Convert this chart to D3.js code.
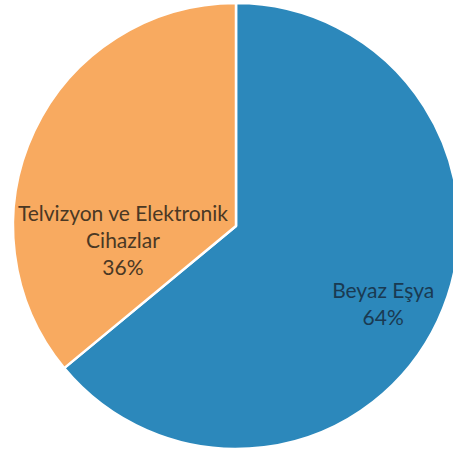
<!DOCTYPE html>
<html><head><meta charset="utf-8">
<script src="https://cdn.jsdelivr.net/npm/d3@7"></script>
<style>body{margin:0;background:#fff}svg{display:block}</style>
</head><body>
<svg id="c" width="453" height="457"></svg>
<script>
const categories = ["Beyaz Eşya", "Telvizyon ve Elektronik Cihazlar"];
const values = [64, 36];
const labelLines = [["Beyaz Eşya", "64%"], ["Telvizyon ve Elektronik", "Cihazlar", "36%"]];
const colors = ["#2c88bb", "#f8aa60"];

const svg = d3.select("#c");
const cx = 236, cy = 226, R = 223;
const g = svg.append("g").attr("transform", `translate(${cx},${cy})`);
const pie = d3.pie().sort(null).value(d => d);
const arcs = pie(values);
const arc = d3.arc().innerRadius(0).outerRadius(R);
const color = d3.scaleOrdinal().domain(categories).range(colors);

g.selectAll("path").data(arcs).enter().append("path")
  .attr("d", arc)
  .attr("fill", (d, i) => color(categories[i]))
  .attr("stroke", "#fff").attr("stroke-width", 2.5).attr("stroke-linejoin", "round");

// label anchor positions (fractions of radius from centre)
const labelPos = [[0.66, 0.35], [-0.507, 0.067]];
const lh = 27;
labelLines.forEach((lines, i) => {
  const [fx, fy] = labelPos[i];
  const x = fx * R, y0 = fy * R - (lines.length - 1) * lh / 2;
  const t = g.append("text").attr("text-anchor", "middle")
    .attr("font-family", "Lato, 'Open Sans', sans-serif").attr("font-size", 21)
    .attr("fill", i === 0 ? "#1a3a52" : "#4a3824");
  lines.forEach((s, k) => t.append("tspan").attr("x", x).attr("y", y0 + k * lh).attr("dy", "0.35em").text(s));
});
</script>
</body></html>
